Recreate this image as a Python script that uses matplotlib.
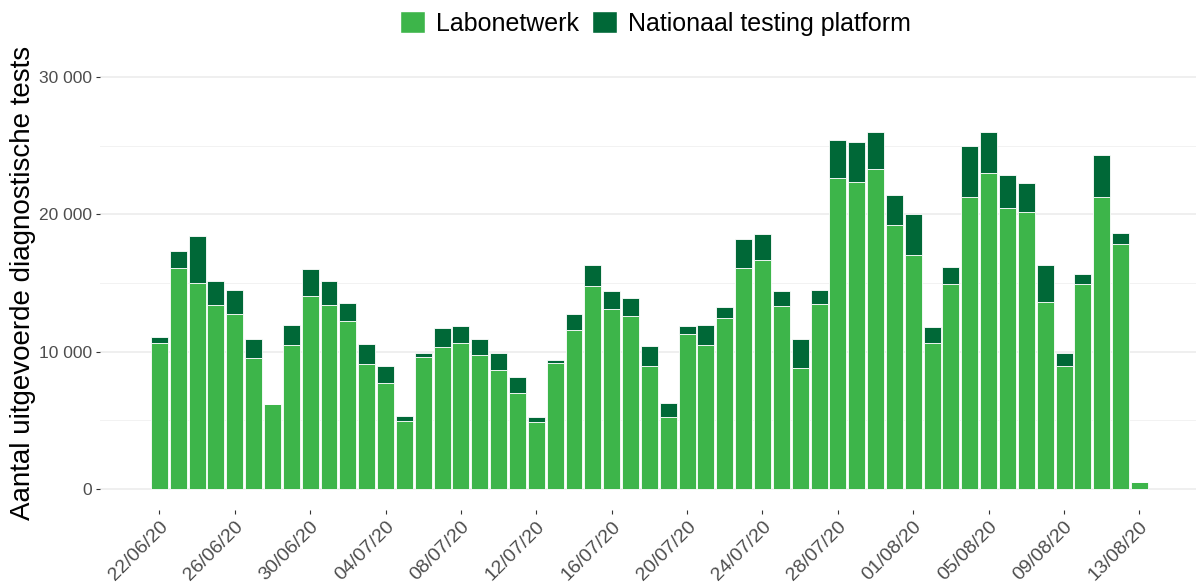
import numpy as np
import pandas as pd
import matplotlib
matplotlib.use("Agg")
import matplotlib.pyplot as plt
from matplotlib.patches import Patch

plt.rcParams['font.family'] = ['Liberation Sans', 'DejaVu Sans']

# daily tests, 22/06/20 .. 13/08/20
dates = pd.date_range('2020-06-22', '2020-08-13', freq='D')

labonetwerk = [10600, 16080, 14990, 13410, 12730, 9560, 6150, 10480, 14040, 13390,
               12200, 9100, 7680, 4940, 9640, 10340, 10650, 9730, 8690, 6970,
               4840, 9150, 11570, 14770, 13100, 12590, 8960, 5250, 11310, 10460,
               12440, 16080, 16680, 13340, 8810, 13460, 22640, 22350, 23310, 19220,
               17070, 10630, 14940, 21260, 22980, 20460, 20140, 13580, 8930, 14940,
               21280, 17840, 480]
nationaal = [460, 1210, 3410, 1720, 1740, 1330, 0, 1450, 1940, 1740,
             1330, 1480, 1280, 390, 270, 1380, 1210, 1210, 1210, 1160,
             390, 220, 1190, 1500, 1330, 1330, 1450, 990, 530, 1480,
             780, 2110, 1910, 1090, 2130, 1020, 2780, 2880, 2710, 2200,
             2950, 1190, 1230, 3680, 3030, 2420, 2150, 2690, 990, 700,
             3070, 770, 0]

y_ticks = [0, 10000, 20000, 30000]
y_labels = ['0', '10 000', '20 000', '30 000']

light = '#3db54a'
dark = '#006837'

x = np.arange(len(dates))

fig = plt.figure(figsize=(11.96, 5.87), dpi=100)
ax = fig.add_axes([0.0836, 0.132, 0.9164, 0.772])

ax.bar(x, labonetwerk, width=0.9, color=light, edgecolor='white', linewidth=0.6, zorder=3)
ax.bar(x, nationaal, bottom=labonetwerk, width=0.9, color=dark,
       edgecolor='white', linewidth=0.6, zorder=3)

ax.set_xlim(-3.15, 55.0)
ax.set_ylim(-1500, 31500)

# grid like theme_minimal
for v in y_ticks:
    ax.axhline(v, color='#ebebeb', linewidth=1.1, zorder=0)
for v in [5000, 15000, 25000]:
    ax.axhline(v, color='#f2f2f2', linewidth=0.7, zorder=0)

ax.set_yticks(y_ticks)
ax.set_yticklabels(y_labels, fontsize=12.5, color='#4d4d4d')

tick_pos = x[::4]
ax.set_xticks(tick_pos)
ax.set_xticklabels([d.strftime('%d/%m/%y') for d in dates[::4]],
                   rotation=45, ha='right', va='top', rotation_mode='anchor',
                   fontsize=14, color='#4d4d4d')
ax.tick_params(axis='both', length=3, width=0.8, color='#333333', pad=3)

for s in ax.spines.values():
    s.set_visible(False)

ax.set_ylabel('Aantal uitgevoerde diagnostische tests', fontsize=20, labelpad=2)

handles = [Patch(facecolor=light, edgecolor='white', label='Labonetwerk'),
           Patch(facecolor=dark, edgecolor='white', label='Nationaal testing platform')]
fig.legend(handles=handles, loc='upper center', bbox_to_anchor=(0.548, 1.02), ncol=2,
           frameon=False, fontsize=18, handlelength=1.0, handleheight=1.0,
           handletextpad=0.45, columnspacing=0.5)

fig.savefig('out.png', dpi=100)
